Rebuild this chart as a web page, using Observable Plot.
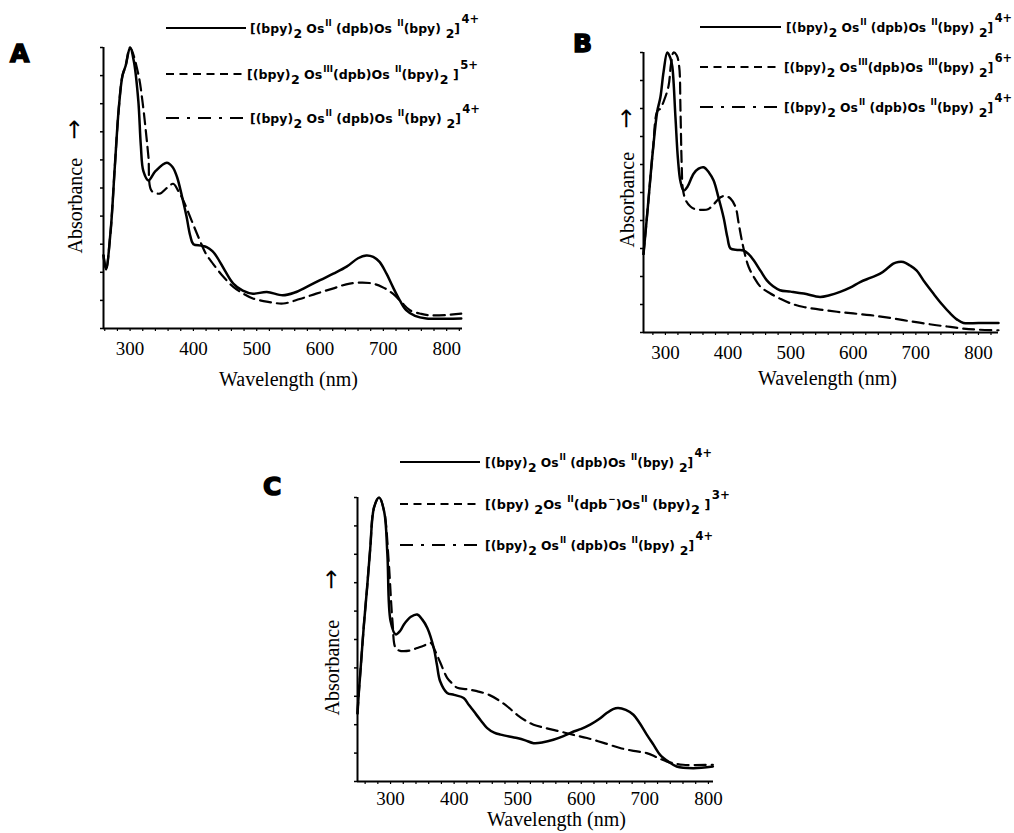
<!DOCTYPE html>
<html><head><meta charset="utf-8">
<script src="https://cdn.jsdelivr.net/npm/d3@7"></script>
<script src="https://cdn.jsdelivr.net/npm/@observablehq/plot@0.6"></script>
<style>
html,body{margin:0;padding:0;background:#fff;}
#page{position:relative;width:1014px;height:833px;overflow:hidden;background:#fff;}
#page > svg{position:absolute;}
</style></head><body><div id="page"></div>
<script>
// ---------- data: [wavelength (nm), relative absorbance] ----------
const xTicks = [300, 400, 500, 600, 700, 800];
const yTicks = [0, 0.1, 0.2, 0.3, 0.4, 0.5, 0.6, 0.7, 0.8, 0.9, 1.0];

const aSolid = [[258,0.26],[262,0.21],[269,0.34],[276,0.58],[282,0.78],[288,0.90],[293,0.935],[300,1.0],[306,0.95],[313,0.81],[317,0.65],[321,0.56],[329,0.527],[340,0.56],[358,0.59],[367,0.575],[374,0.54],[382,0.47],[389,0.40],[395,0.33],[400,0.30],[412,0.295],[421,0.29],[430,0.275],[437,0.255],[450,0.205],[463,0.16],[478,0.135],[494,0.124],[516,0.13],[541,0.118],[560,0.128],[579,0.148],[600,0.172],[621,0.195],[642,0.22],[660,0.25],[673,0.26],[684,0.255],[694,0.237],[705,0.195],[715,0.148],[726,0.10],[736,0.065],[750,0.045],[768,0.036],[800,0.035],[823,0.036]];
const aDashed = [[258,0.26],[262,0.21],[269,0.34],[276,0.58],[282,0.78],[288,0.90],[293,0.935],[300,1.0],[313,0.905],[320,0.80],[325,0.70],[329,0.61],[334,0.49],[347,0.48],[358,0.50],[368,0.515],[376,0.49],[384,0.456],[397,0.385],[410,0.314],[420,0.265],[431,0.23],[447,0.185],[463,0.148],[478,0.125],[494,0.107],[518,0.095],[542,0.089],[568,0.105],[594,0.124],[620,0.142],[647,0.16],[678,0.162],[698,0.148],[715,0.124],[728,0.095],[742,0.065],[760,0.052],[773,0.047],[800,0.048],[823,0.053]];

const bSolid = [[265,0.28],[272,0.45],[280,0.65],[287,0.79],[292,0.84],[297,0.93],[303,1.0],[308,0.98],[311,0.95],[316,0.77],[320,0.62],[324,0.54],[329,0.507],[335,0.52],[345,0.567],[353,0.585],[361,0.59],[370,0.57],[377,0.543],[385,0.48],[393,0.41],[399,0.34],[404,0.30],[415,0.295],[425,0.293],[433,0.28],[441,0.258],[452,0.22],[462,0.186],[472,0.165],[483,0.151],[500,0.146],[521,0.139],[547,0.127],[562,0.133],[579,0.145],[595,0.16],[611,0.18],[627,0.195],[643,0.21],[655,0.23],[664,0.246],[672,0.252],[680,0.252],[690,0.24],[701,0.222],[714,0.18],[728,0.139],[742,0.10],[755,0.068],[766,0.046],[776,0.034],[800,0.034],[832,0.034]];
const bDashed = [[265,0.28],[272,0.45],[280,0.65],[287,0.79],[292,0.80],[298,0.83],[305,0.88],[309,0.96],[313,1.0],[318,0.99],[322,0.95],[324,0.80],[326,0.60],[328,0.51],[333,0.47],[340,0.45],[348,0.44],[358,0.438],[368,0.44],[378,0.46],[388,0.483],[396,0.488],[404,0.478],[412,0.448],[417,0.39],[422,0.33],[428,0.27],[433,0.234],[442,0.195],[452,0.163],[467,0.14],[483,0.121],[500,0.104],[521,0.091],[547,0.082],[574,0.074],[600,0.068],[627,0.062],[653,0.054],[680,0.044],[706,0.035],[733,0.026],[755,0.02],[776,0.014],[800,0.01],[832,0.008]];

const cSolid = [[248,0.24],[250,0.31],[253,0.40],[258,0.55],[263,0.68],[268,0.82],[274,0.965],[282,1.0],[290,0.95],[295,0.80],[300,0.565],[308,0.518],[315,0.53],[321,0.553],[332,0.58],[342,0.588],[350,0.57],[358,0.54],[368,0.47],[373,0.41],[378,0.353],[389,0.312],[400,0.305],[415,0.294],[423,0.27],[431,0.247],[442,0.215],[452,0.188],[463,0.172],[473,0.165],[499,0.153],[512,0.145],[525,0.135],[540,0.138],[556,0.147],[572,0.16],[588,0.176],[600,0.185],[614,0.20],[627,0.218],[640,0.241],[650,0.255],[658,0.259],[670,0.252],[682,0.235],[692,0.205],[703,0.165],[714,0.128],[724,0.094],[737,0.07],[750,0.053],[776,0.047],[807,0.053]];
const cDashed = [[248,0.24],[250,0.31],[253,0.40],[258,0.55],[263,0.68],[268,0.82],[274,0.965],[282,1.0],[290,0.95],[297,0.776],[303,0.565],[308,0.47],[315,0.46],[321,0.459],[332,0.462],[342,0.47],[352,0.478],[363,0.488],[370,0.46],[378,0.42],[389,0.365],[397,0.345],[405,0.33],[420,0.325],[436,0.318],[455,0.305],[473,0.282],[486,0.26],[499,0.235],[512,0.215],[525,0.20],[546,0.187],[567,0.176],[588,0.164],[609,0.153],[635,0.136],[661,0.118],[682,0.108],[703,0.10],[719,0.085],[735,0.07],[760,0.059],[807,0.059]];

// legend labels: [text, kind]
const lblII_II_4 = [["[(bpy)","n"],["2","sub"],[" Os","n"],["II","sup"],[" (dpb)Os ","n"],["II","sup"],["(bpy) ","n"],["2","sub"],["]","n"],["4+","chg"]];
const lblIII_II_5 = [["[(bpy)","n"],["2","sub"],[" Os","n"],["III","sup"],["(dpb)Os ","n"],["II","sup"],["(bpy)","n"],["2","sub"],[" ]","n"],["5+","chg"]];
const lblIII_III_6 = [["[(bpy)","n"],["2","sub"],[" Os","n"],["III","sup"],["(dpb)Os ","n"],["III","sup"],["(bpy) ","n"],["2","sub"],["]","n"],["6+","chg"]];
const lblII_dpbm_3 = [["[(bpy)","n"],[" 2","sub"],["Os ","n"],["II","sup"],["(dpb","n"],["\u2212","sup"],[")Os","n"],["II","sup"],[" (bpy)","n"],["2","sub"],[" ]","n"],["3+","chg"]];

// ---------- panels ----------
const page = document.getElementById("page");
const serif = "'Liberation Serif','Times New Roman',serif";

function panel(o) {
  const minor = d3.range(Math.ceil(o.domain[0] / 20) * 20, o.domain[1], 20);
  const p = Plot.plot({
    width: o.width, height: o.height,
    marginLeft: o.ml, marginRight: o.mr, marginTop: o.mt, marginBottom: o.mb,
    x: {domain: o.domain},
    y: {domain: [0, 1]},
    style: {fontFamily: serif, fontSize: "19px", color: "black", background: "transparent", overflow: "visible"},
    marks: [
      Plot.axisY({ticks: yTicks, tickSize: 3, tickFormat: () => "", strokeWidth: 1.5, label: null}),
      Plot.axisX({ticks: minor, tickSize: 3, tickFormat: () => "", strokeWidth: 1.2, label: null}),
      Plot.axisX({ticks: xTicks, tickSize: 0, tickPadding: o.tp, fontSize: 19, label: null}),
      Plot.ruleX([o.domain[0]], {stroke: "black", strokeWidth: 2}),
      Plot.ruleY([0], {stroke: "black", strokeWidth: 2}),
      Plot.line(o.dashed, {x: d => d[0], y: d => d[1], stroke: "black", strokeWidth: 2.2, strokeDasharray: "11,6", curve: "catmull-rom"}),
      Plot.line(o.solid, {x: d => d[0], y: d => d[1], stroke: "black", strokeWidth: 2.5, curve: "catmull-rom"}),
      Plot.text(["Wavelength (nm)"], {frameAnchor: "bottom", dx: o.xlDx, dy: o.xlDy + 7, fontSize: 20, fill: "black"}),
      Plot.text(["Absorbance"], {frameAnchor: "left", rotate: -90, textAnchor: "start", dx: o.ylDx + 6, dy: o.ylDy, fontSize: 20, fill: "black"}),
      Plot.text(["\u2192"], {frameAnchor: "left", rotate: -90, dx: o.ylDx + 5, dy: o.arDy + 8, fontSize: 24, fontFamily: "'DejaVu Sans',sans-serif", fill: "black"})
    ]
  });
  p.style.left = o.left + "px";
  p.style.top = o.top + "px";
  page.appendChild(p);
}

panel({left: 0, top: 0, width: 480, height: 400, ml: 103, mr: 18, mt: 47, mb: 72, tp: 13,
  domain: [258, 825], solid: aSolid, dashed: aDashed,
  xlDx: 5.5, xlDy: 50.6, ylDx: -34.4, ylDy: 65.5, arDy: -56.5});
panel({left: 520, top: 0, width: 494, height: 400, ml: 123, mr: 16, mt: 52, mb: 68, tp: 13,
  domain: [265, 832], solid: bSolid, dashed: bDashed,
  xlDx: 6.5, xlDy: 45.6, ylDx: -22.4, ylDy: 55, arDy: -72});
panel({left: 300, top: 420, width: 440, height: 413, ml: 57, mr: 27, mt: 77, mb: 52, tp: 10,
  domain: [248, 808], solid: cSolid, dashed: cDashed,
  xlDx: 21, xlDy: 37.6, ylDx: -31.4, ylDy: 76, arDy: -58});

// ---------- overlay: panel letters and legends ----------
const svg = d3.create("svg").attr("width", 1014).attr("height", 833)
  .style("left", "0px").style("top", "0px").style("pointer-events", "none");

const letterFont = "'DejaVu Sans','Liberation Sans',sans-serif";
[["A", 10, 62], ["B", 573, 52], ["C", 263, 495]].forEach(([t, x, y]) => {
  svg.append("text").attr("x", x).attr("y", y).attr("font-family", letterFont)
    .attr("font-weight", "900").attr("font-size", 25).attr("fill", "black")
    .attr("stroke", "black").attr("stroke-width", 1.5).text(t);
});

const dashStyles = {solid: null, dashed: "8,5.5", dashdot: "13,8,3,8"};
const legFont = "'DejaVu Sans','Liberation Sans',sans-serif";
function drawLabel(x, y, segs, len) {
  const t = svg.append("text").attr("x", x).attr("y", y).attr("font-family", legFont)
    .attr("font-weight", "bold").attr("font-size", 13).attr("fill", "black")
    .attr("textLength", len).attr("lengthAdjust", "spacingAndGlyphs");
  let cur = 0;
  const off = {n: 0, sub: 5, sup: -7, chg: -10};
  const fs = {n: 13, sub: 13, sup: 9, chg: 12};
  const gap = {n: 0, sub: 0.5, sup: 1, chg: 1.5};
  segs.forEach(([s, k]) => {
    t.append("tspan").attr("dx", gap[k]).attr("dy", off[k] - cur).attr("font-size", fs[k]).text(s);
    cur = off[k];
  });
}
function legend(x1, x2, tx, rows) {
  rows.forEach(r => {
    const l = svg.append("line").attr("x1", x1).attr("x2", r.x2 ?? x2).attr("y1", r.y).attr("y2", r.y)
      .attr("stroke", "black").attr("stroke-width", 2);
    if (dashStyles[r.style]) l.attr("stroke-dasharray", dashStyles[r.style]);
    drawLabel(r.tx ?? tx, r.y + 5, r.segs, r.len);
  });
}
legend(166, 246, 250, [
  {y: 28, style: "solid", segs: lblII_II_4, len: 229},
  {y: 74, style: "dashed", segs: lblIII_II_5, len: 231, tx: 247},
  {y: 118, style: "dashdot", segs: lblII_II_4, len: 230}
]);
legend(700, 781, 786, [
  {y: 27, style: "solid", segs: lblII_II_4, len: 226},
  {y: 67, style: "dashed", segs: lblIII_III_6, len: 228, tx: 784},
  {y: 107, style: "dashdot", segs: lblII_II_4, len: 228, tx: 784}
]);
legend(400, 480, 485, [
  {y: 462, style: "solid", segs: lblII_II_4, len: 227},
  {y: 504, style: "dashed", segs: lblII_dpbm_3, len: 245},
  {y: 545, style: "dashdot", segs: lblII_II_4, len: 228}
]);

page.appendChild(svg.node());
</script></body></html>
